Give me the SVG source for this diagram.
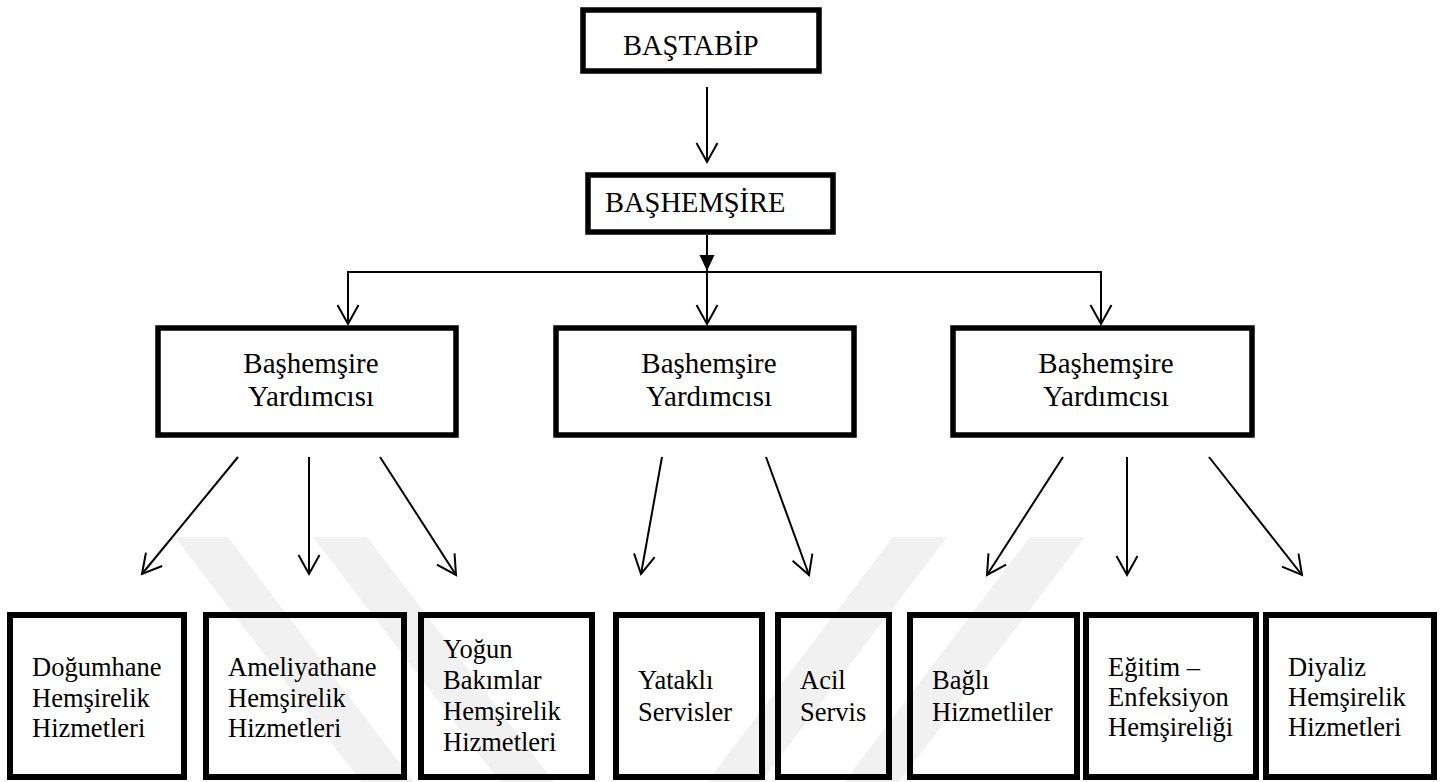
<svg xmlns="http://www.w3.org/2000/svg" width="1445" height="782" viewBox="0 0 1445 782">
<style>
.box{fill:#fff;stroke:#000;stroke-width:5.5}
.bbox{fill:none;stroke:#000;stroke-width:6}
.t{font-family:"Liberation Serif","Times New Roman",serif;fill:#000}
.t1{font-size:28.5px}
.t2{font-size:29px;text-anchor:middle}
.t3{font-size:26.5px}
.ln{stroke:#000;stroke-width:2;fill:none}
.oa{marker-end:url(#open)}
.wm{fill:#f1f1f1}
</style>
<defs>
<marker id="open" markerUnits="userSpaceOnUse" viewBox="-22 -13 24 26" markerWidth="24" markerHeight="26" refX="0" refY="0" orient="auto" overflow="visible">
<path d="M-19,-10.5 L0,0 L-19,10.5" fill="none" stroke="#000" stroke-width="2"/>
</marker>
<marker id="filled" markerUnits="userSpaceOnUse" viewBox="-18 -9 19 18" markerWidth="19" markerHeight="18" refX="0" refY="0" orient="auto" overflow="visible">
<path d="M-16,-7.5 L0,0 L-16,7.5 Z" fill="#000"/>
</marker>
</defs>
<rect width="1445" height="782" fill="#fff"/>
<g id="watermark">
<polygon class="wm" points="175,537 228,537 414,782 361,782"/>
<polygon class="wm" points="313,537 367,537 554,782 500,782"/>
<polygon class="wm" points="1030,537 1085,537 899,782 844,782"/>
<polygon class="wm" points="893,537 947,537 761,782 707,782"/>
</g>
<g id="connectors">
<line class="ln oa" x1="707" y1="87" x2="707" y2="162"/>
<line class="ln" x1="707" y1="235" x2="707" y2="271" marker-end="url(#filled)"/>
<line class="ln" x1="348" y1="272" x2="1101" y2="272"/>
<line class="ln oa" x1="348" y1="271" x2="348" y2="324"/>
<line class="ln oa" x1="707" y1="272" x2="707" y2="324"/>
<line class="ln oa" x1="1101" y1="271" x2="1101" y2="324"/>
<line class="ln oa" x1="238" y1="457" x2="142" y2="574"/>
<line class="ln oa" x1="309" y1="457" x2="309" y2="574"/>
<line class="ln oa" x1="380" y1="457" x2="456" y2="575"/>
<line class="ln oa" x1="662" y1="457" x2="641" y2="574"/>
<line class="ln oa" x1="766" y1="457" x2="809" y2="575"/>
<line class="ln oa" x1="1063" y1="457" x2="987" y2="575"/>
<line class="ln oa" x1="1127" y1="457" x2="1127" y2="575"/>
<line class="ln oa" x1="1209" y1="457" x2="1302" y2="575"/>
</g>
<g id="bastabip">
<rect class="box" x="583" y="10" width="236" height="61"/>
<text class="t t1" x="623" y="55">BAŞTABİP</text>
</g>
<g id="bashemsire">
<rect class="box" x="588" y="175" width="245" height="57"/>
<text class="t t1" x="605" y="212">BAŞHEMŞİRE</text>
</g>
<g id="yardimci1">
<rect class="box" x="158" y="328" width="298" height="107"/>
<text class="t t2" x="311" y="373">Başhemşire</text>
<text class="t t2" x="311" y="406">Yardımcısı</text>
</g>
<g id="yardimci2">
<rect class="box" x="556" y="328" width="298" height="107"/>
<text class="t t2" x="709" y="373">Başhemşire</text>
<text class="t t2" x="709" y="406">Yardımcısı</text>
</g>
<g id="yardimci3">
<rect class="box" x="953" y="328" width="299" height="107"/>
<text class="t t2" x="1106" y="373">Başhemşire</text>
<text class="t t2" x="1106" y="406">Yardımcısı</text>
</g>
<g id="dogumhane">
<rect class="bbox" x="10" y="615" width="174" height="162"/>
<text class="t t3" x="32" y="676">Doğumhane</text>
<text class="t t3" x="32" y="706.5">Hemşirelik</text>
<text class="t t3" x="32" y="737">Hizmetleri</text>
</g>
<g id="ameliyathane">
<rect class="bbox" x="206" y="615" width="198" height="162"/>
<text class="t t3" x="228" y="676">Ameliyathane</text>
<text class="t t3" x="228" y="706.5">Hemşirelik</text>
<text class="t t3" x="228" y="737">Hizmetleri</text>
</g>
<g id="yogunbakim">
<rect class="bbox" x="421" y="615" width="171" height="162"/>
<text class="t t3" x="443" y="658">Yoğun</text>
<text class="t t3" x="443" y="689">Bakımlar</text>
<text class="t t3" x="443" y="720">Hemşirelik</text>
<text class="t t3" x="443" y="751">Hizmetleri</text>
</g>
<g id="yatakli">
<rect class="bbox" x="616" y="615" width="146" height="162"/>
<text class="t t3" x="638" y="689">Yataklı</text>
<text class="t t3" x="638" y="721">Servisler</text>
</g>
<g id="acil">
<rect class="bbox" x="778" y="615" width="111" height="162"/>
<text class="t t3" x="800" y="689">Acil</text>
<text class="t t3" x="800" y="721">Servis</text>
</g>
<g id="bagli">
<rect class="bbox" x="910" y="615" width="167" height="162"/>
<text class="t t3" x="932" y="689">Bağlı</text>
<text class="t t3" x="932" y="721">Hizmetliler</text>
</g>
<g id="egitim">
<rect class="bbox" x="1086" y="615" width="170" height="162"/>
<text class="t t3" x="1108" y="676">Eğitim –</text>
<text class="t t3" x="1108" y="706">Enfeksiyon</text>
<text class="t t3" x="1108" y="736">Hemşireliği</text>
</g>
<g id="diyaliz">
<rect class="bbox" x="1266" y="615" width="168" height="162"/>
<text class="t t3" x="1288" y="676">Diyaliz</text>
<text class="t t3" x="1288" y="706">Hemşirelik</text>
<text class="t t3" x="1288" y="736">Hizmetleri</text>
</g>
</svg>
